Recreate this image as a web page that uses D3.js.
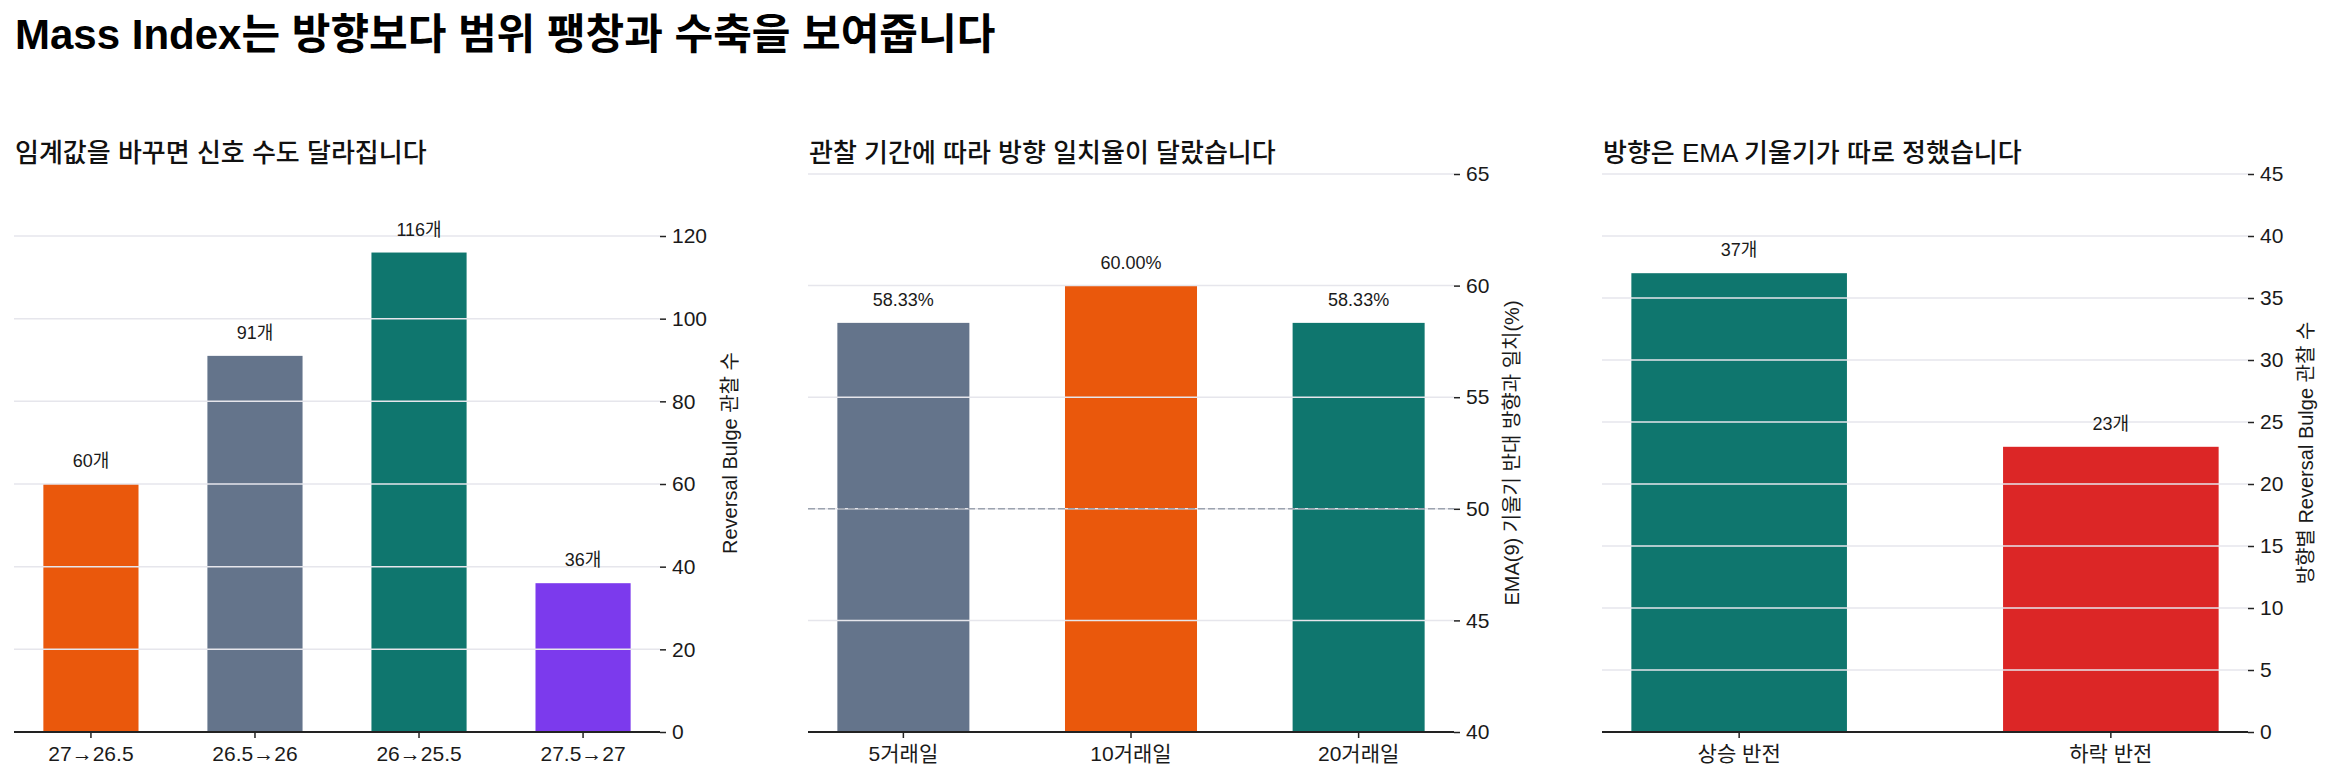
<!DOCTYPE html>
<html>
<head>
<meta charset="utf-8">
<script src="https://cdn.jsdelivr.net/npm/d3@7"></script>
<style>
  body { margin: 0; background: #fff; }
  svg text { font-family: "Liberation Sans", "Noto Sans CJK KR", sans-serif; fill: #1a1a1a; }
</style>
</head>
<body>
<div id="chart"></div>
<script>
// data
const thresholdLabels = ["27→26.5", "26.5→26", "26→25.5", "27.5→27"];
const thresholdCounts = [60, 91, 116, 36];
const windowLabels = ["5거래일", "10거래일", "20거래일"];
const windowMatch = [58.33, 60.00, 58.33];
const directionLabels = ["상승 반전", "하락 반전"];
const directionCounts = [37, 23];

const width = 2331;
const height = 782;
const plotTop = 174, plotBottom = 732, plotWidth = 646;
const panelLefts = [14, 808, 1602];

const svg = d3.select("#chart")
    .append("svg")
    .attr("width", width)
    .attr("height", height);

// main title
svg.append("text")
    .attr("x", 15)
    .attr("y", 49)
    .style("font-size", "42px")
    .style("font-weight", "bold")
    .style("fill", "#000")
    .text("Mass Index는 방향보다 범위 팽창과 수축을 보여줍니다");

function drawPanel(opts) {
    const left = opts.left;
    const right = left + plotWidth;
    const n = opts.labels.length;
    const w = 0.58;
    const m = 0.05 * (n - 1 + w); // matplotlib-ish x margin

    const x = d3.scaleBand()
        .domain(opts.labels)
        .range([left, right])
        .paddingInner(1 - w)
        .paddingOuter(m);

    const y = d3.scaleLinear()
        .domain(opts.yDomain)
        .range([plotBottom, plotTop]);

    const g = svg.append("g");

    // subtitle
    g.append("text")
        .attr("x", left + 1)
        .attr("y", 162)
        .style("font-size", "26px")
        .style("font-weight", 500)
        .style("fill", "#111")
        .text(opts.title);

    // bars
    g.selectAll("rect.bar")
        .data(opts.values)
        .enter()
        .append("rect")
        .attr("class", "bar")
        .attr("x", (d, i) => x(opts.labels[i]))
        .attr("y", d => y(d))
        .attr("width", x.bandwidth())
        .attr("height", d => plotBottom - y(d))
        .attr("fill", (d, i) => opts.colors[i]);

    // gridlines sit on top of the bars
    g.selectAll("line.grid")
        .data(opts.ticks)
        .enter()
        .append("line")
        .attr("x1", left)
        .attr("x2", right)
        .attr("y1", d => y(d))
        .attr("y2", d => y(d))
        .attr("stroke", "#e6e6ec")
        .attr("stroke-width", 1.5);

    if (opts.refLine !== undefined) {
        g.append("line")
            .attr("x1", left)
            .attr("x2", right)
            .attr("y1", y(opts.refLine))
            .attr("y2", y(opts.refLine))
            .attr("stroke", "#9ca3af")
            .attr("stroke-width", 1.5)
            .attr("stroke-dasharray", "7,3");
    }

    // value labels
    g.selectAll("text.val")
        .data(opts.values)
        .enter()
        .append("text")
        .attr("class", "val")
        .attr("x", (d, i) => x(opts.labels[i]) + x.bandwidth() / 2)
        .attr("y", d => y(d) - 17)
        .attr("text-anchor", "middle")
        .style("font-size", "18px")
        .text(opts.fmt);

    // x axis
    const xAxis = g.append("g")
        .attr("transform", `translate(0, ${plotBottom})`)
        .call(d3.axisBottom(x).tickSize(6).tickPadding(8));
    xAxis.select(".domain").remove();
    xAxis.selectAll("line").attr("stroke", "#222").attr("stroke-width", 1.5);
    xAxis.selectAll("text").style("font-size", "21px").style("fill", "#1a1a1a");
    g.append("line")
        .attr("x1", left)
        .attr("x2", right)
        .attr("y1", plotBottom)
        .attr("y2", plotBottom)
        .attr("stroke", "#222")
        .attr("stroke-width", 2);

    // y axis on the right
    const yAxis = g.append("g")
        .attr("transform", `translate(${right}, 0)`)
        .call(d3.axisRight(y).tickValues(opts.ticks).tickSize(6).tickPadding(6));
    yAxis.select(".domain").remove();
    yAxis.selectAll("line").attr("stroke", "#222").attr("stroke-width", 1.5);
    yAxis.selectAll("text").style("font-size", "21px").style("fill", "#1a1a1a");

    const bb = yAxis.node().getBBox();
    const labelX = right + bb.x + bb.width + 30;
    g.append("text")
        .attr("transform", `translate(${labelX}, ${(plotTop + plotBottom) / 2}) rotate(-90)`)
        .attr("text-anchor", "middle")
        .style("font-size", "20px")
        .text(opts.yLabel);
}

drawPanel({
    left: panelLefts[0],
    title: "임계값을 바꾸면 신호 수도 달라집니다",
    labels: thresholdLabels,
    values: thresholdCounts,
    colors: ["#ea580c", "#64748b", "#0f766e", "#7c3aed"],
    yDomain: [0, 135],
    ticks: d3.range(0, 121, 20),
    fmt: d => `${d}개`,
    yLabel: "Reversal Bulge 관찰 수"
});

drawPanel({
    left: panelLefts[1],
    title: "관찰 기간에 따라 방향 일치율이 달랐습니다",
    labels: windowLabels,
    values: windowMatch,
    colors: ["#64748b", "#ea580c", "#0f766e"],
    yDomain: [40, 65],
    ticks: d3.range(40, 66, 5),
    refLine: 50,
    fmt: d => `${d.toFixed(2)}%`,
    yLabel: "EMA(9) 기울기 반대 방향과 일치(%)"
});

drawPanel({
    left: panelLefts[2],
    title: "방향은 EMA 기울기가 따로 정했습니다",
    labels: directionLabels,
    values: directionCounts,
    colors: ["#0f766e", "#dc2626"],
    yDomain: [0, 45],
    ticks: d3.range(0, 46, 5),
    fmt: d => `${d}개`,
    yLabel: "방향별 Reversal Bulge 관찰 수"
});
</script>
</body>
</html>
